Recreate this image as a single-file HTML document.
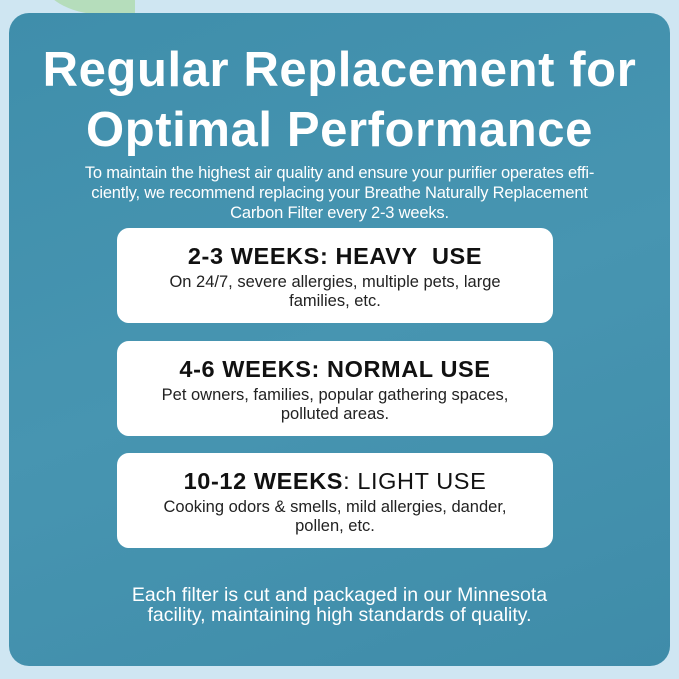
<!DOCTYPE html>
<html><head><style>
body{margin:0;width:679px;height:679px;overflow:hidden;background:#cfe6f2;font-family:"Liberation Sans",sans-serif;position:relative}
.leaf{position:absolute;border-radius:0 70% 0 70%;background:#a9d8a4;opacity:.7}
.panel{position:absolute;left:9px;top:13px;width:661px;height:653px;border-radius:20px;background:linear-gradient(160deg,#3f8eab 0%,#4795b1 50%,#3f8ca9 100%);color:#fff;text-align:center}
h1{margin:0;position:absolute;left:-20px;right:-20px;top:27px;font-size:49px;line-height:60px;font-weight:bold;letter-spacing:.6px}
.p{position:absolute;left:0;right:0;top:150px;font-size:16.5px;line-height:20px;letter-spacing:-.2px}
.card{position:absolute;left:108px;width:436px;height:95px;background:#fff;border-radius:12px;color:#111}
.card b{display:block;margin-top:14px;font-size:23.5px;line-height:28px;letter-spacing:.6px}
.card span{display:block;font-size:16.5px;line-height:19px;margin-top:3px;color:#222}
.f{position:absolute;left:0;right:0;top:572px;font-size:19.5px;line-height:20px}
</style></head><body>
<div class="leaf" style="left:45px;top:-30px;width:90px;height:45px"></div>
<div class="panel">
<h1>Regular Replacement for<br>Optimal Performance</h1>
<div class="p">To maintain the highest air quality and ensure your purifier operates effi-<br>ciently, we recommend replacing your Breathe Naturally Replacement<br>Carbon Filter every 2-3 weeks.</div>
<div class="card" style="top:215px"><b>2-3 WEEKS: HEAVY&nbsp; USE</b><span>On 24/7, severe allergies, multiple pets, large<br>families, etc.</span></div>
<div class="card" style="top:328px"><b>4-6 WEEKS: NORMAL USE</b><span>Pet owners, families, popular gathering spaces,<br>polluted areas.</span></div>
<div class="card" style="top:440px"><b>10-12 WEEKS<span style="display:inline;font-size:23.5px;font-weight:normal;margin:0;color:#111;line-height:28px">: LIGHT USE</span></b><span>Cooking odors &amp; smells, mild allergies, dander,<br>pollen, etc.</span></div>
<div class="f">Each filter is cut and packaged in our Minnesota<br>facility, maintaining high standards of quality.</div>
</div>
</body></html>
